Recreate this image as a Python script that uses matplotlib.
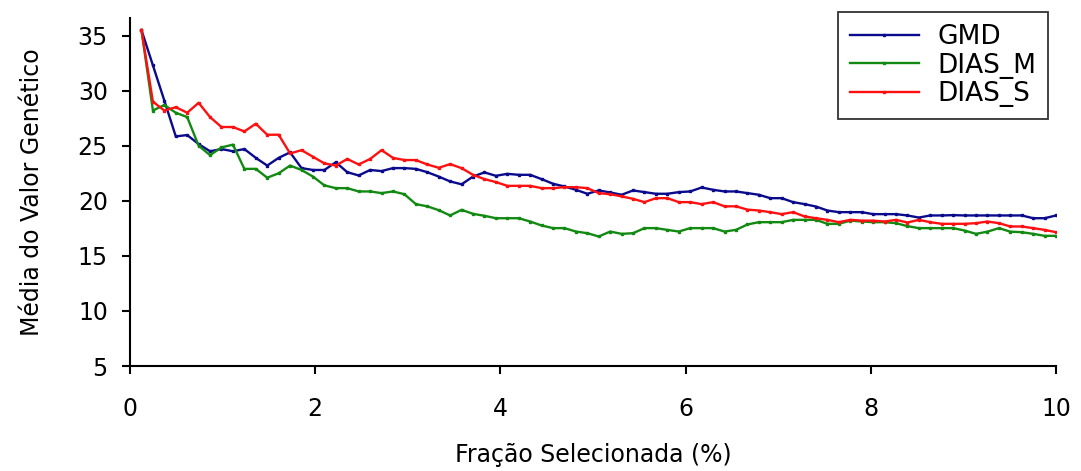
import matplotlib
matplotlib.use("Agg")
import matplotlib.pyplot as plt

# fraction selected (%), 81 steps up to 10 %
frac = [k / 8.1 for k in range(1, 82)]

gmd = [35.5, 32.3, 29.1, 25.85, 25.97, 25.15, 24.5, 24.7, 24.5, 24.7,
       23.9, 23.2, 23.9, 24.4, 22.97, 22.8, 22.8, 23.5, 22.6, 22.3,
       22.8, 22.7, 22.97, 22.97, 22.9, 22.6, 22.2, 21.76, 21.5, 22.2,
       22.58, 22.27, 22.45, 22.36, 22.36, 21.97, 21.55, 21.3, 21.0, 20.64,
       20.94, 20.76, 20.55, 20.94, 20.79, 20.64, 20.64, 20.79, 20.85, 21.21,
       21.0, 20.85, 20.85, 20.7, 20.55, 20.24, 20.24, 19.88, 19.7, 19.48,
       19.12, 18.97, 18.97, 18.97, 18.79, 18.79, 18.79, 18.67, 18.48, 18.67,
       18.67, 18.7, 18.67, 18.67, 18.67, 18.67, 18.67, 18.67, 18.42, 18.42,
       18.67]

dias_m = [35.5, 28.2, 28.7, 28.0, 27.6, 25.0, 24.15, 24.85, 25.1, 22.9,
          22.9, 22.1, 22.5, 23.2, 22.8, 22.2, 21.4, 21.15, 21.15, 20.85,
          20.85, 20.7, 20.85, 20.6, 19.7, 19.5, 19.15, 18.67, 19.18, 18.82,
          18.64, 18.42, 18.42, 18.42, 18.12, 17.76, 17.52, 17.52, 17.21, 17.06,
          16.76, 17.21, 17.0, 17.06, 17.52, 17.52, 17.36, 17.21, 17.52, 17.52,
          17.52, 17.21, 17.36, 17.85, 18.06, 18.06, 18.06, 18.27, 18.27, 18.27,
          17.91, 17.91, 18.2, 18.12, 18.06, 18.06, 17.97, 17.7, 17.52, 17.52,
          17.52, 17.52, 17.3, 17.0, 17.2, 17.52, 17.2, 17.15, 17.0, 16.82,
          16.82]

dias_s = [35.5, 29.0, 28.2, 28.5, 28.0, 28.9, 27.6, 26.7, 26.7, 26.3,
          27.0, 26.0, 26.0, 24.3, 24.6, 24.0, 23.4, 23.2, 23.8, 23.3,
          23.8, 24.6, 23.9, 23.7, 23.7, 23.3, 23.0, 23.33, 22.97, 22.36,
          21.97, 21.7, 21.36, 21.36, 21.36, 21.15, 21.15, 21.24, 21.24, 21.15,
          20.7, 20.6, 20.4, 20.18, 19.88, 20.24, 20.24, 19.88, 19.88, 19.7,
          19.88, 19.5, 19.5, 19.2, 19.12, 18.97, 18.79, 18.97, 18.58, 18.42,
          18.27, 18.06, 18.27, 18.2, 18.2, 18.12, 18.27, 18.03, 18.27, 18.06,
          17.91, 17.91, 17.91, 17.97, 18.12, 17.97, 17.67, 17.67, 17.52, 17.36,
          17.15]

labels = ["GMD", "DIAS_M", "DIAS_S"]
colors = ["#0a0a8c", "#128a12", "#ff1010"]

fig = plt.figure(figsize=(10.81, 4.71), dpi=100)
ax = fig.add_axes([0.1203, 0.2229, 0.8566, 0.7389])

for ys, lab, col in zip([gmd, dias_m, dias_s], labels, colors):
    ax.plot(frac, ys, color=col, lw=1.7, marker="s", markersize=1.6, label=lab)

ax.set_xlim(0, 10)
ax.set_ylim(5, 36.6)
ax.set_xticks([0, 2, 4, 6, 8, 10])
ax.set_yticks([5, 10, 15, 20, 25, 30, 35])
ax.tick_params(labelsize=17, width=1.5, length=6, pad=10)
ax.tick_params(axis="x", pad=16)
for s in ["top", "right"]:
    ax.spines[s].set_visible(False)
for s in ["left", "bottom"]:
    ax.spines[s].set_linewidth(1.5)

ax.set_xlabel("Fração Selecionada (%)", fontsize=17, labelpad=16)
ax.set_ylabel("Média do Valor Genético", fontsize=17, labelpad=24)

leg = ax.legend(loc="upper right", bbox_to_anchor=(0.9695, 0.9745),
                bbox_transform=fig.transFigure, fontsize=19, numpoints=1,
                frameon=True, fancybox=False, edgecolor="black",
                handlelength=2.6, handletextpad=0.7, borderpad=0.45,
                labelspacing=0.1, borderaxespad=0)
leg.get_frame().set_linewidth(1.3)

fig.savefig("out.png", dpi=100)
